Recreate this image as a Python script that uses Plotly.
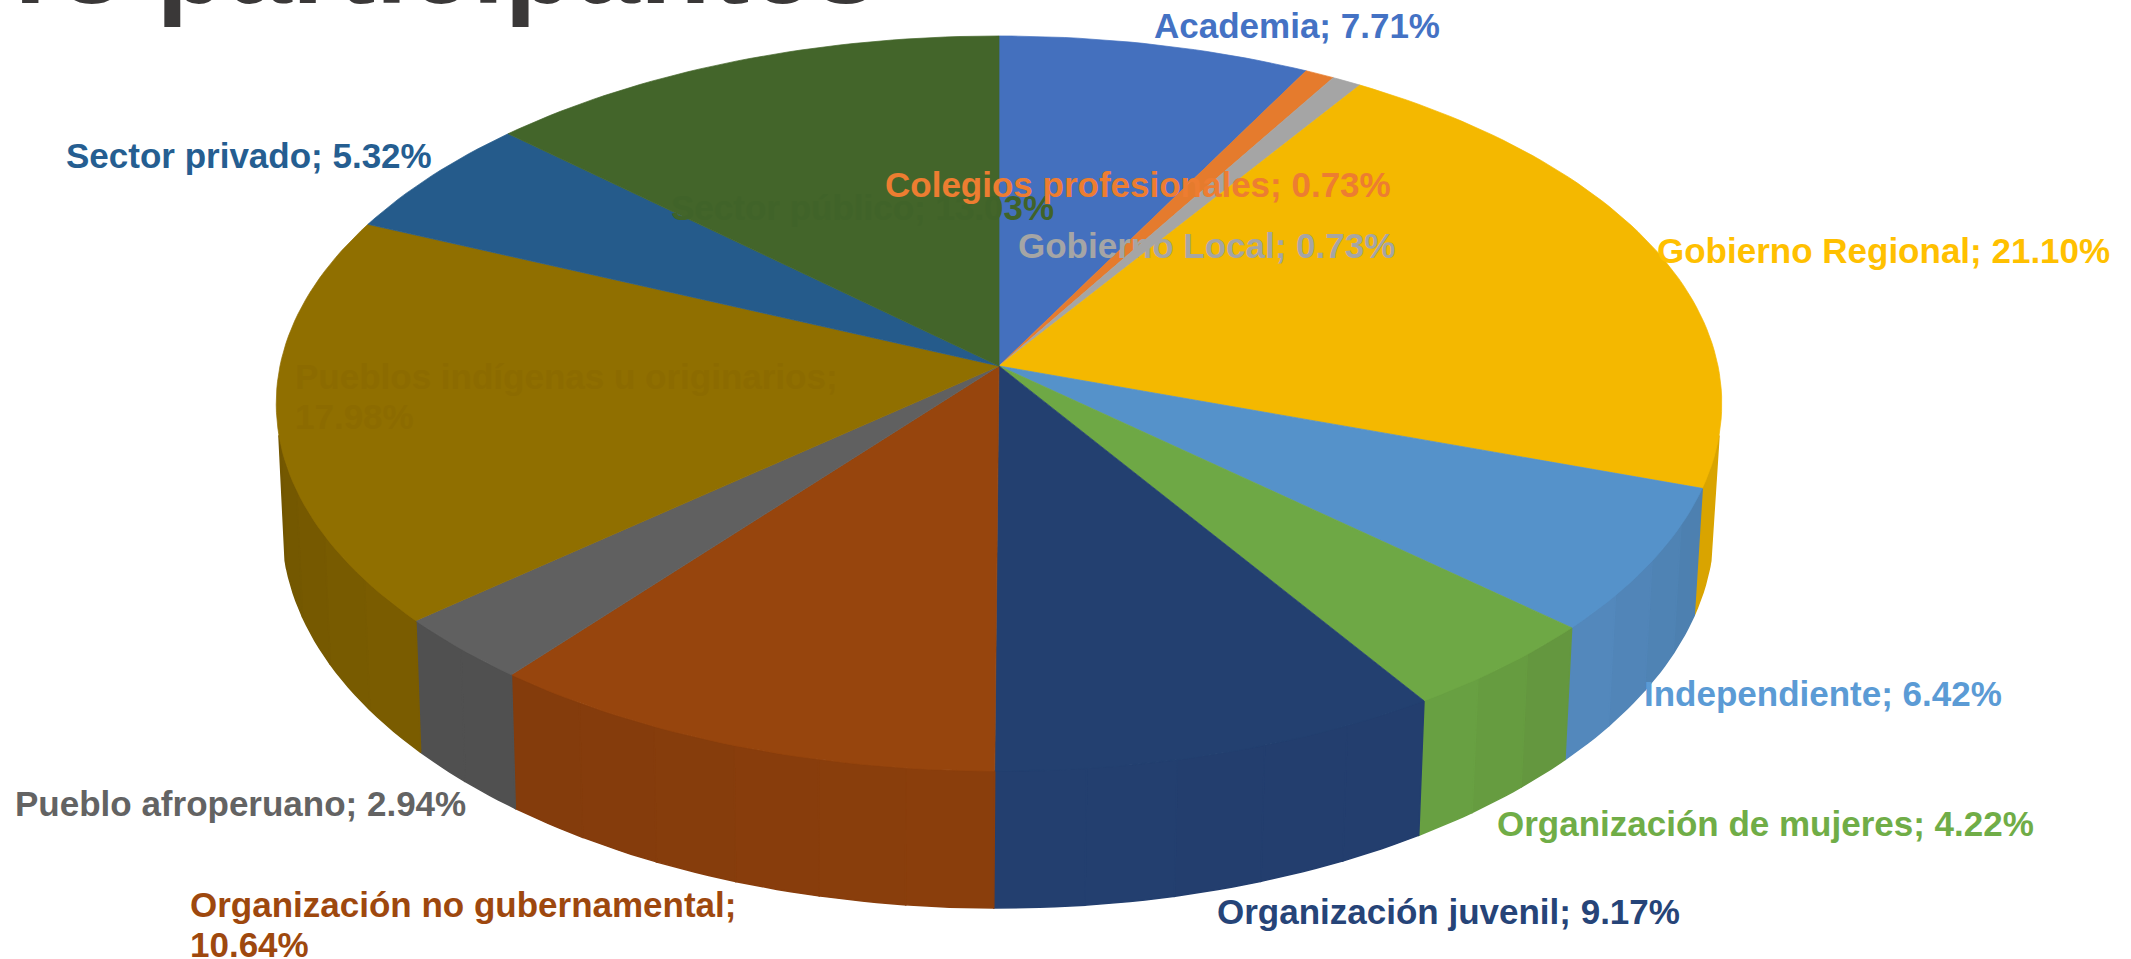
import math
import plotly.graph_objects as go

categories = ["Academia", "Colegios profesionales", "Gobierno Local", "Gobierno Regional",
              "Independiente", "Organización de mujeres", "Organización juvenil",
              "Organización no gubernamental", "Pueblo afroperuano",
              "Pueblos indígenas u originarios", "Sector privado", "Sector público"]
values = [7.71, 0.73, 0.73, 21.10, 6.42, 4.22, 9.17, 10.64, 2.94, 17.98, 5.32, 13.03]
top_colors = ["#4470BE", "#E57B2D", "#A5A5A5", "#F4B800", "#5592CA", "#6EA845",
              "#234070", "#97450D", "#606060", "#906F00", "#255B8B", "#43652A"]
side_from = ["#3A60A5", "#C86B27", "#8E8E8E", "#DFA900", "#4D80B0", "#64973F",
             "#233E6E", "#8A3E0C", "#505050", "#7A5C00", "#20507A", "#3A5825"]
side_to = ["#3A60A5", "#C86B27", "#8E8E8E", "#D9A400", "#5388BC", "#68A042",
           "#233F6F", "#843C0C", "#505050", "#6B5100", "#20507A", "#3A5825"]
label_colors = ["#4472C4", "#ED7D31", "#A5A5A5", "#FFC000", "#5B9BD5", "#70AD47",
                "#264478", "#9E480E", "#636363", "#8C6B00", "#255E91", "#406329"]
label_text = ["Academia; 7.71%", "Colegios profesionales; 0.73%", "Gobierno Local; 0.73%",
              "Gobierno Regional; 21.10%", "Independiente; 6.42%", "Organización de mujeres; 4.22%",
              "Organización juvenil; 9.17%", "Organización no gubernamental;|10.64%",
              "Pueblo afroperuano; 2.94%", "Pueblos indígenas u originarios;|17.98%",
              "Sector privado; 5.32%", "Sector público; 13.03%"]
label_x = [1152, 883, 1016, 1655, 1642, 1495, 1215, 188, 13, 293, 64, 669]
label_y = [25, 184, 245, 250, 693, 823, 911, 924, 803, 396, 155, 207]
title_first = "1"
title_rest = "8 participantes"

W, H = 2131, 959
CX, CY, A, B, K = 999.0, 366.0, 719.0, 363.7, 0.102
TOTAL = sum(values)
SIDE_START, SIDE_END = 28.0, 72.0


def top_pt(pct):
    t = 2 * math.pi * pct / TOTAL
    u, v = math.sin(t), math.cos(t)
    s = 1 / (1 + K * v)
    return CX + A * u * s, CY - B * v * s


def bottom_pt(pct):
    x, y = top_pt(pct)
    return 998 + 0.99 * (x - CX), y + 137 - 0.035 * (771 - y)


def mix(c1, c2, f):
    a = [int(c1[i:i + 2], 16) for i in (1, 3, 5)]
    b = [int(c2[i:i + 2], 16) for i in (1, 3, 5)]
    return "rgb(%d,%d,%d)" % tuple(round(p + (q - p) * f) for p, q in zip(a, b))


fig = go.Figure()
STEP = 2.0
cum = 0.0
spans = []
for val in values:
    spans.append((cum, cum + val))
    cum += val

for i, (a0, a1) in enumerate(spans):
    n = max(1, math.ceil((a1 - a0) / STEP))
    for j in range(n):
        p0 = max(a0 + (a1 - a0) * j / n, SIDE_START)
        p1 = min(a0 + (a1 - a0) * (j + 1) / n, SIDE_END)
        if p1 <= p0:
            continue
        f = j / max(1, n - 1)
        steps = [p0 + (p1 - p0) * m / 6 for m in range(7)]
        tp = [top_pt(p) for p in steps]
        bt = [bottom_pt(p) for p in reversed(steps)]
        pts = tp + bt + [tp[0]]
        col = mix(side_from[i], side_to[i], f)
        fig.add_trace(go.Scatter(x=[p[0] for p in pts], y=[p[1] for p in pts], mode="lines",
                                 fill="toself", fillcolor=col, line=dict(color=col, width=1.5),
                                 hoverinfo="skip", showlegend=False))

for i, (a0, a1) in enumerate(spans):
    n = max(6, math.ceil((a1 - a0) * 3))
    arc = [top_pt(a0 + (a1 - a0) * m / n) for m in range(n + 1)]
    pts = [(CX, CY)] + arc + [(CX, CY)]
    fig.add_trace(go.Scatter(x=[p[0] for p in pts], y=[p[1] for p in pts], mode="lines",
                             fill="toself", fillcolor=top_colors[i],
                             line=dict(color=top_colors[i], width=0.7),
                             name=categories[i], text=label_text[i].replace("|", " "), hoverinfo="text",
                             showlegend=False))

FONT = "Liberation Sans, Arial, sans-serif"
order = [11] + list(range(11))
annotations = []
for i in order:
    lines = label_text[i].split("|")
    for k, line in enumerate(lines):
        annotations.append(dict(x=label_x[i], y=label_y[i] + (k - (len(lines) - 1) / 2) * 40,
                                xref="x", yref="y", text="<b>%s</b>" % line,
                                showarrow=False, xanchor="left", yanchor="middle", align="left",
                                font=dict(family=FONT, size=35, color=label_colors[i])))
annotations.append(dict(x=0, y=33, xshift=-9, xref="x", yref="y",
                        text="<b><span style=\"font-family:Roboto\">%s</span>%s</b>" % (title_first, title_rest),
                        showarrow=False, xanchor="left", yanchor="bottom",
                        font=dict(family=FONT, size=116, color="#3A3838")))

fig.update_layout(
    width=W, height=H, margin=dict(l=0, r=0, t=0, b=0),
    paper_bgcolor="white", plot_bgcolor="white", showlegend=False,
    xaxis=dict(range=[0, W], visible=False, fixedrange=True),
    yaxis=dict(range=[H, 0], visible=False, fixedrange=True),
    annotations=annotations,
)
fig.write_html("out.html", config=dict(displayModeBar=False),
               post_script="document.body.style.margin='0';document.documentElement.style.overflow='hidden';")
